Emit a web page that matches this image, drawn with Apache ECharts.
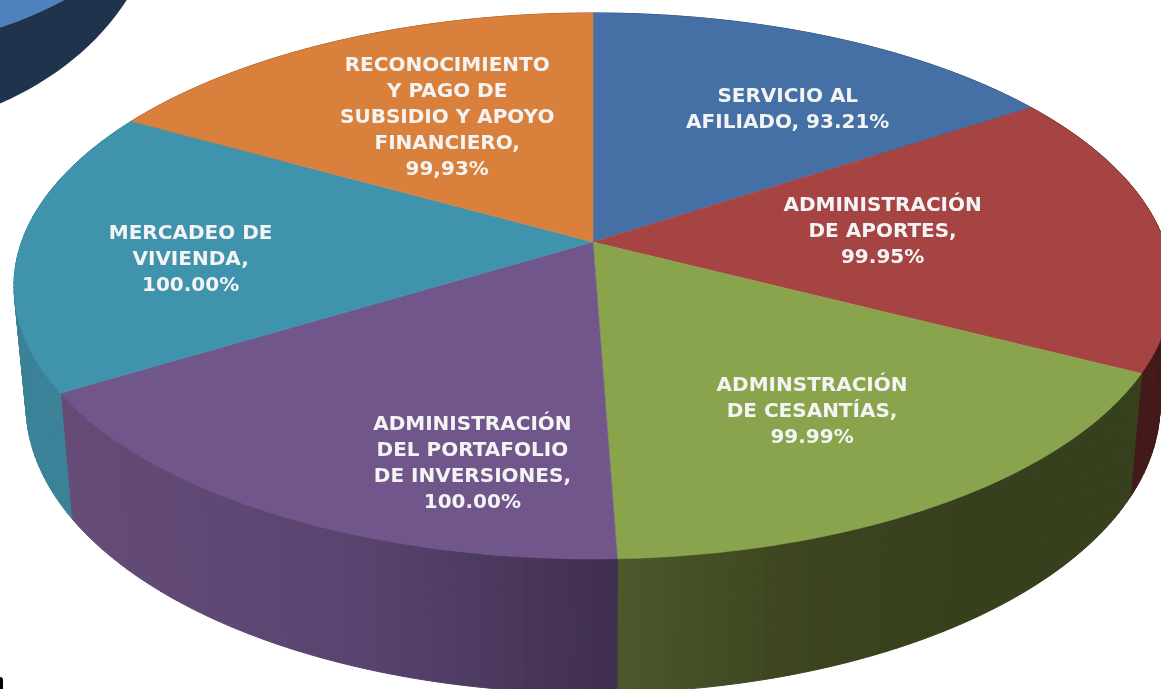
<!DOCTYPE html>
<html lang="es">

<head>
    <meta charset="UTF-8">
    <title>pie</title>
    <script src="https://cdn.jsdelivr.net/npm/echarts@6/dist/echarts.min.js"></script>
    <style type="text/css">
        html, body { margin: 0; height: 100%; background: #fff; overflow: hidden; }
    </style>
</head>

<body>
    <div id="main" style="width: 1161px; height: 689px;"></div>
    <script type="text/javascript">
        var categories = ['SERVICIO AL AFILIADO', 'ADMINISTRACIÓN DE APORTES', 'ADMINSTRACIÓN DE CESANTÍAS',
            'ADMINISTRACIÓN DEL PORTAFOLIO DE INVERSIONES', 'MERCADEO DE VIVIENDA', 'RECONOCIMIENTO Y PAGO DE SUBSIDIO Y APOYO FINANCIERO'];
        var values = [93.21, 99.95, 99.99, 100.00, 100.00, 99.93];
        var labels = [
            'SERVICIO AL\nAFILIADO, 93.21%',
            'ADMINISTRACIÓN\nDE APORTES,\n99.95%',
            'ADMINSTRACIÓN\nDE CESANTÍAS,\n99.99%',
            'ADMINISTRACIÓN\nDEL PORTAFOLIO\nDE INVERSIONES,\n100.00%',
            'MERCADEO DE\nVIVIENDA,\n100.00%',
            'RECONOCIMIENTO\nY PAGO DE\nSUBSIDIO Y APOYO\nFINANCIERO,\n99,93%'
        ];

        // colores
        var topColors = ['#4470a5', '#a64443', '#89a44d', '#71568b', '#3f93ad', '#d9803c'];
        var wallColors = [
            ['#2a4566', '#2a4566'],
            ['#431a19', '#431a19'],
            ['#4c582c', '#3c4520', '#37401d', '#37401d'],
            ['#654c77', '#5a4570', '#3f2f50'],
            ['#3b8298', '#3b8298'],
            ['#8a5228', '#8a5228']
        ];
        // ajuste de cada etiqueta respecto a su punto en el sector
        var labelNudge = [[45, -3], [-51, -2], [19, 23], [57, 68], [-59, 15], [14, 3]];

        // perspectiva: elipse de arriba, elipse de abajo, desplazamiento del centro
        var TOP = { cx: 593, cy: 286, a: 579, b: 273 };
        var BOTTOM = { cx: 593, cy: 405, a: 567, b: 288 };
        var SHIFT = 0.161;

        var total = values.reduce(function (s, v) { return s + v; }, 0);
        var startAngles = [];
        values.reduce(function (s, v, i) { startAngles[i] = s; return s + v / total * 360; }, 0);

        function project(e, deg, r) {
            var t = deg * Math.PI / 180;
            var x = r * Math.sin(t), y = -r * Math.cos(t);
            var den = 1 - SHIFT * y;
            return [e.cx + e.a * x * Math.sqrt(1 - SHIFT * SHIFT) / den, e.cy + e.b * (y - SHIFT) / den];
        }

        function sliceAngles(i) {
            return [startAngles[i], startAngles[i] + values[i] / total * 360];
        }

        function renderWall(params, api) {
            var i = params.dataIndex;
            var ang = sliceAngles(i);
            var x0 = project(TOP, ang[0], 1)[0], x1 = project(TOP, ang[1], 1)[0];
            var xmin = Math.min(x0, x1), xmax = Math.max(x0, x1);
            var children = [];
            var step = 1;
            for (var d = ang[0]; d < ang[1]; d += step) {
                var e = Math.min(d + step, ang[1]);
                var p1 = project(TOP, d, 1), p2 = project(TOP, e, 1);
                var p3 = project(BOTTOM, e, 1), p4 = project(BOTTOM, d, 1);
                var t = Math.max(0, Math.min(1, ((p1[0] + p2[0]) / 2 - xmin) / (xmax - xmin)));
                var col = echarts.color.lerp(t, wallColors[i]);
                children.push({
                    type: 'polygon',
                    shape: { points: [p1, p2, p3, p4] },
                    style: { fill: col, stroke: col, lineWidth: 1 }
                });
            }
            return { type: 'group', children: children };
        }

        function renderTop(params, api) {
            var i = params.dataIndex;
            var ang = sliceAngles(i);
            var pts = [project(TOP, 0, 0)];
            for (var d = ang[0]; d < ang[1]; d += 1) {
                pts.push(project(TOP, d, 1));
            }
            pts.push(project(TOP, ang[1], 1));
            var mid = project(TOP, (ang[0] + ang[1]) / 2, 0.6);
            return {
                type: 'group',
                children: [{
                    type: 'polygon',
                    shape: { points: pts },
                    style: { fill: topColors[i], stroke: topColors[i], lineWidth: 0.5 }
                }, {
                    type: 'text',
                    z2: 10,
                    style: {
                        x: mid[0] + labelNudge[i][0],
                        y: mid[1] + labelNudge[i][1],
                        text: labels[i],
                        fill: '#f4f4f4',
                        font: 'bold 20px "DejaVu Sans"',
                        lineHeight: 26,
                        align: 'center',
                        verticalAlign: 'middle'
                    }
                }]
            };
        }

        var chart = echarts.init(document.getElementById('main'));
        var option = {
            backgroundColor: '#ffffff',
            animation: false,
            graphic: [
                { type: 'ellipse', z: 1, shape: { cx: -150, cy: -110, rx: 310, ry: 244 }, style: { fill: '#1f344c' } },
                { type: 'ellipse', z: 2, shape: { cx: -150, cy: -170, rx: 336, ry: 221 }, style: { fill: '#4f81bd' } },
                { type: 'rect', z: 2, shape: { x: -4, y: 677, width: 7, height: 16, r: 3 }, style: { fill: '#000000' } }
            ],
            series: [{
                type: 'custom',
                name: 'paredes',
                coordinateSystem: 'none',
                silent: true,
                z: 3,
                renderItem: renderWall,
                data: values
            }, {
                type: 'custom',
                name: 'sectores',
                coordinateSystem: 'none',
                silent: true,
                z: 4,
                renderItem: renderTop,
                data: values.map(function (v, i) { return { name: categories[i], value: v }; })
            }]
        };
        chart.setOption(option);
    </script>
</body>

</html>
